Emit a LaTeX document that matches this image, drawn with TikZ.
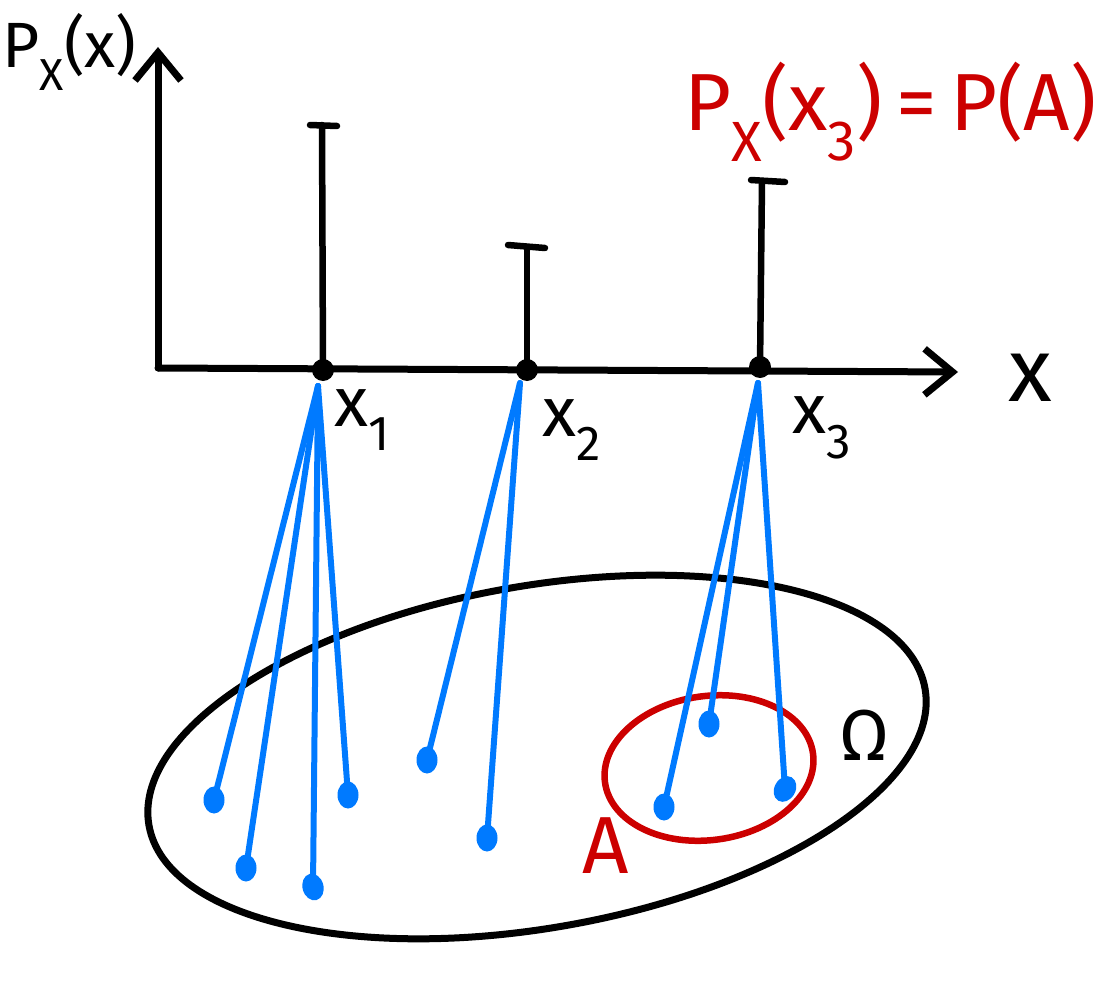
\documentclass[tikz,border=0pt]{standalone}
\usepackage{fontspec}
\setmainfont{Fira Sans}
\usetikzlibrary{arrows.meta,shapes.geometric}
\definecolor{hblue}{RGB}{0,122,255}
\definecolor{hred}{RGB}{204,0,0}
\tikzset{
  axis/.style={line width=7pt, line cap=round, line join=round, black},
  stem/.style={line width=6.5pt, line cap=round, black},
  map/.style={line width=6pt, line cap=round, hblue},
  bdot/.style={ellipse, fill=hblue, inner sep=0pt, minimum width=21pt, minimum height=27pt},
  kdot/.style={circle, fill=black, inner sep=0pt, minimum size=22pt},
  lab/.style={inner sep=0pt, font=\fontsize{70}{70}\selectfont},
  redlab/.style={inner sep=0pt, text=hred, font=\fontsize{81}{81}\selectfont},
  tip/.style={-{Straight Barb[length=28pt,width=46pt,line width=7pt]}}
}
\begin{document}
\begin{tikzpicture}[x=1pt,y=-1pt]
\useasboundingbox (0,0) rectangle (1099,1000);
% axes
\coordinate (O) at (158,368);
\coordinate (Ytop) at (158,47);
\coordinate (Xend) at (958,372);
\draw[axis,tip] (O) -- (Ytop);
\draw[axis,tip] (O) -- (Xend);
% stems
\node[kdot] (d1) at (323,370) {};
\node[kdot] (d2) at (527,370) {};
\node[kdot] (d3) at (760,367) {};
\coordinate (t1) at (322,125);
\coordinate (t2) at (527,248);
\coordinate (t3) at (762,181);
\draw[stem] (d1.center) -- (t1);
\draw[stem] (d2.center) -- (t2);
\draw[stem] (d3.center) -- (t3);
\draw[stem] (310,125) -- (337,126);
\draw[stem] (508,245) -- (545,248);
\draw[stem] (751,180) -- (785,182);
% labels
\node[inner sep=0pt, anchor=west, font=\fontsize{64}{64}\selectfont] (pl) at (2,52) {P\textsubscript{X}(x)};
\node[lab] (l1) at (362,420) {x\textsubscript{1}};
\node[lab] (l2) at (572,430) {x\textsubscript{2}};
\node[lab] (l3) at (822,428) {x\textsubscript{3}};
\node[inner sep=0pt, font=\fontsize{90}{90}\selectfont] (lx) at (1030,378) {x};
\node[redlab, anchor=west] (rl) at (684,112) {P\textsubscript{X}(x\textsubscript{3})\,=\,P(A)};
% sample space
\draw[line width=7pt] [rotate around={10:(537,757)}] (537,757) ellipse [x radius=394pt, y radius=171pt];
\draw[line width=6.5pt, hred] [rotate around={8:(709,768)}] (709,768) ellipse [x radius=105pt, y radius=72pt];
\node[inner sep=0pt, font=\fontsize{72}{72}\selectfont] (om) at (864,735) {Ω};
\node[redlab] (la) at (606,846) {A};
% mapping origins
\coordinate (o1) at (318,386);
\coordinate (o2) at (520,383);
\coordinate (o3) at (758,383);
% outcomes
\node[bdot] (w1) at (214,800) {};
\node[bdot] (w2) at (246,868) {};
\node[bdot, rotate=15] (w3) at (313,887) {};
\node[bdot] (w4) at (348,795) {};
\node[bdot] (w5) at (427,760) {};
\node[bdot] (w6) at (487,838) {};
\node[bdot] (w7) at (664,807) {};
\node[bdot] (w8) at (709,724) {};
\node[bdot, rotate=-30] (w9) at (785,789) {};
\draw[map] (o1) -- (w1.center);
\draw[map] (o1) -- (w2.center);
\draw[map] (o1) -- (w3.center);
\draw[map] (o1) -- (w4.center);
\draw[map] (o2) -- (w5.center);
\draw[map] (o2) -- (w6.center);
\draw[map] (o3) -- (w7.center);
\draw[map] (o3) -- (w8.center);
\draw[map] (o3) -- (w9.center);
\end{tikzpicture}
\end{document}
